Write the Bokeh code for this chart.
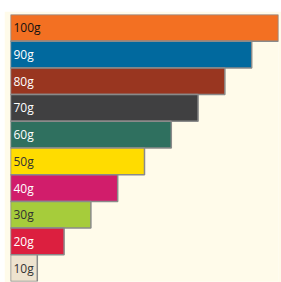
from bokeh.plotting import figure
from bokeh.models import ColumnDataSource, Range1d
from bokeh.core.properties import value
from bokeh.embed import file_html
from bokeh.resources import INLINE

labels = ["100g", "90g", "80g", "70g", "60g", "50g", "40g", "30g", "20g", "10g"]
values = [100, 90, 80, 70, 60, 50, 40, 30, 20, 10]
colors = ["#f37022", "#01699e", "#993620", "#404041", "#2f705f",
          "#ffdc00", "#d11d6b", "#a6cc3b", "#dc1f3f", "#eee3cf"]
text_colors = ["#111111", "#ffffff", "#ffffff", "#ffffff", "#ffffff",
               "#333333", "#ffffff", "#333333", "#ffffff", "#333333"]

src = ColumnDataSource(dict(y=labels, v=values, c=colors, tc=text_colors,
                            x0=[0] * len(values)))

p = figure(width=277, height=271, y_range=list(reversed(labels)),
           x_range=Range1d(0, 100), output_backend="svg",
           toolbar_location=None, min_border_left=6, min_border_right=3,
           min_border_top=3, min_border_bottom=1)
p.margin = (11, 0, 0, 4)
p.hbar(y="y", left=0, right="v", height=1.0, fill_color="c",
       line_color="#8a8a8a", line_width=1.5, source=src)
p.text(x="x0", y="y", text="y", text_color="tc", source=src,
       x_offset=3, text_baseline="middle", text_align="left",
       text_font=value("Open Sans"), text_font_size="12px")

p.axis.visible = False
p.grid.visible = False
p.outline_line_color = None
p.background_fill_color = "#fffbea"
p.border_fill_color = "#fffbea"

open("out.html", "w").write(file_html(p, INLINE))
